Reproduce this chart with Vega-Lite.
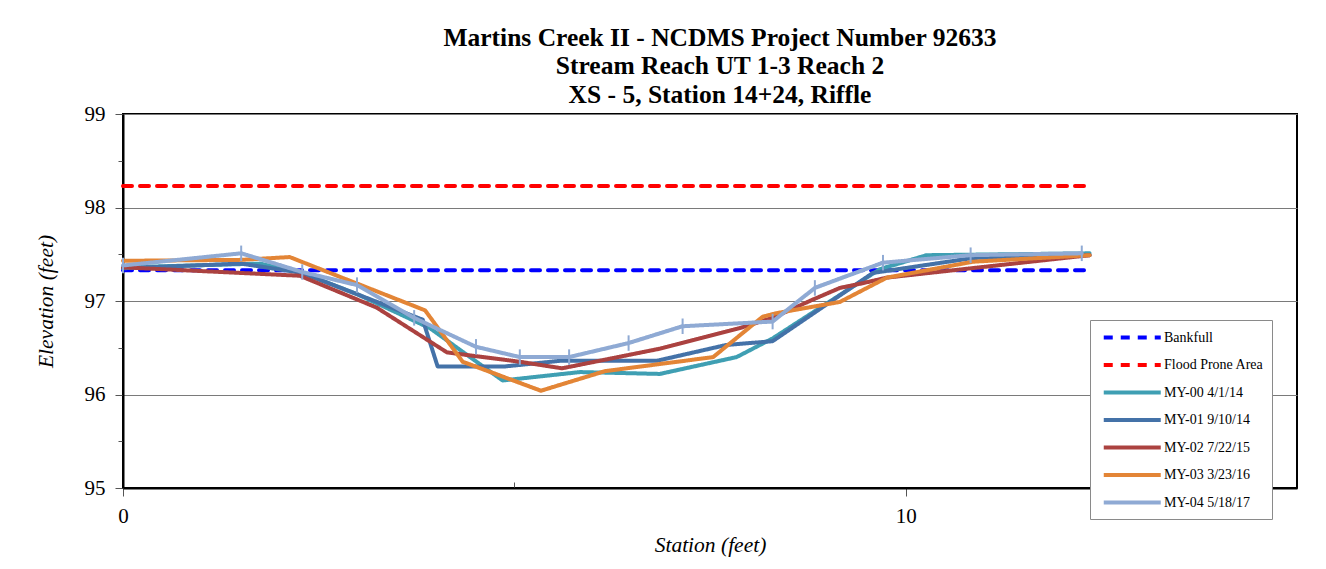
{
  "$schema": "https://vega.github.io/schema/vega-lite/v6.json",
  "autosize": {"type": "none"},
  "width": 1174,
  "height": 374,
  "padding": {"left": 123, "top": 114, "right": 29, "bottom": 81},
  "background": "white",
  "config": {
    "font": "Liberation Serif",
    "view": {"stroke": "black", "strokeWidth": 2},
    "legend": {
      "title": null,
      "orient": "none",
      "legendX": 967,
      "legendY": 206,
      "fillColor": "white",
      "strokeColor": "#8a8a8a",
      "padding": 8,
      "labelFont": "Liberation Serif",
      "labelFontSize": 14,
      "labelColor": "black",
      "labelOffset": 47,
      "labelLimit": 300,
      "symbolType": "M-0.5,0L7.1,0",
      "symbolSize": 225,
      "symbolStrokeWidth": 4,
      "rowPadding": 9.5
    }
  },
  "title": {
    "text": ["Martins Creek II - NCDMS Project Number 92633", "Stream Reach UT 1-3 Reach 2", "XS - 5, Station 14+24, Riffle"],
    "font": "Liberation Serif",
    "fontSize": 25.5,
    "fontWeight": "bold",
    "color": "black",
    "lineHeight": 28.5,
    "anchor": "middle",
    "dx": 10,
    "offset": -5
  },
  "data": {
    "values": [
      {"series": "Bankfull", "station": 0, "elevation": 97.33},
      {"series": "Bankfull", "station": 12.35, "elevation": 97.33},
      {"series": "Flood Prone Area", "station": 0, "elevation": 98.23},
      {"series": "Flood Prone Area", "station": 12.35, "elevation": 98.23},

      {"series": "MY-00 4/1/14", "station": 0, "elevation": 97.36},
      {"series": "MY-00 4/1/14", "station": 1.75, "elevation": 97.4},
      {"series": "MY-00 4/1/14", "station": 2.29, "elevation": 97.3},
      {"series": "MY-00 4/1/14", "station": 3.0, "elevation": 97.07},
      {"series": "MY-00 4/1/14", "station": 3.92, "elevation": 96.71},
      {"series": "MY-00 4/1/14", "station": 4.85, "elevation": 96.15},
      {"series": "MY-00 4/1/14", "station": 5.84, "elevation": 96.24},
      {"series": "MY-00 4/1/14", "station": 6.86, "elevation": 96.22},
      {"series": "MY-00 4/1/14", "station": 7.84, "elevation": 96.4},
      {"series": "MY-00 4/1/14", "station": 8.3, "elevation": 96.6},
      {"series": "MY-00 4/1/14", "station": 9.67, "elevation": 97.34},
      {"series": "MY-00 4/1/14", "station": 10.27, "elevation": 97.49},
      {"series": "MY-00 4/1/14", "station": 12.35, "elevation": 97.51},

      {"series": "MY-01 9/10/14", "station": 0, "elevation": 97.35},
      {"series": "MY-01 9/10/14", "station": 1.51, "elevation": 97.4},
      {"series": "MY-01 9/10/14", "station": 2.29, "elevation": 97.3},
      {"series": "MY-01 9/10/14", "station": 3.0, "elevation": 97.07},
      {"series": "MY-01 9/10/14", "station": 3.83, "elevation": 96.8},
      {"series": "MY-01 9/10/14", "station": 4.02, "elevation": 96.3},
      {"series": "MY-01 9/10/14", "station": 4.88, "elevation": 96.3},
      {"series": "MY-01 9/10/14", "station": 5.58, "elevation": 96.36},
      {"series": "MY-01 9/10/14", "station": 6.82, "elevation": 96.36},
      {"series": "MY-01 9/10/14", "station": 7.71, "elevation": 96.53},
      {"series": "MY-01 9/10/14", "station": 8.3, "elevation": 96.57},
      {"series": "MY-01 9/10/14", "station": 9.58, "elevation": 97.3},
      {"series": "MY-01 9/10/14", "station": 10.86, "elevation": 97.46},
      {"series": "MY-01 9/10/14", "station": 12.35, "elevation": 97.49},

      {"series": "MY-02 7/22/15", "station": 0, "elevation": 97.36},
      {"series": "MY-02 7/22/15", "station": 2.26, "elevation": 97.27},
      {"series": "MY-02 7/22/15", "station": 3.24, "elevation": 96.93},
      {"series": "MY-02 7/22/15", "station": 4.14, "elevation": 96.45},
      {"series": "MY-02 7/22/15", "station": 5.07, "elevation": 96.35},
      {"series": "MY-02 7/22/15", "station": 5.61, "elevation": 96.28},
      {"series": "MY-02 7/22/15", "station": 6.86, "elevation": 96.49},
      {"series": "MY-02 7/22/15", "station": 7.88, "elevation": 96.71},
      {"series": "MY-02 7/22/15", "station": 8.3, "elevation": 96.82},
      {"series": "MY-02 7/22/15", "station": 8.8, "elevation": 97.01},
      {"series": "MY-02 7/22/15", "station": 9.16, "elevation": 97.14},
      {"series": "MY-02 7/22/15", "station": 9.45, "elevation": 97.19},
      {"series": "MY-02 7/22/15", "station": 9.76, "elevation": 97.25},
      {"series": "MY-02 7/22/15", "station": 12.35, "elevation": 97.49},

      {"series": "MY-03 3/23/16", "station": 0, "elevation": 97.43},
      {"series": "MY-03 3/23/16", "station": 1.51, "elevation": 97.44},
      {"series": "MY-03 3/23/16", "station": 2.13, "elevation": 97.47},
      {"series": "MY-03 3/23/16", "station": 3.86, "elevation": 96.9},
      {"series": "MY-03 3/23/16", "station": 4.34, "elevation": 96.35},
      {"series": "MY-03 3/23/16", "station": 5.34, "elevation": 96.04},
      {"series": "MY-03 3/23/16", "station": 6.16, "elevation": 96.25},
      {"series": "MY-03 3/23/16", "station": 7.54, "elevation": 96.4},
      {"series": "MY-03 3/23/16", "station": 8.17, "elevation": 96.83},
      {"series": "MY-03 3/23/16", "station": 8.35, "elevation": 96.87},
      {"series": "MY-03 3/23/16", "station": 9.16, "elevation": 96.99},
      {"series": "MY-03 3/23/16", "station": 9.76, "elevation": 97.25},
      {"series": "MY-03 3/23/16", "station": 10.86, "elevation": 97.42},
      {"series": "MY-03 3/23/16", "station": 12.35, "elevation": 97.49},

      {"series": "MY-04 5/18/17", "station": 0, "elevation": 97.38},
      {"series": "MY-04 5/18/17", "station": 1.51, "elevation": 97.51},
      {"series": "MY-04 5/18/17", "station": 2.29, "elevation": 97.31},
      {"series": "MY-04 5/18/17", "station": 2.99, "elevation": 97.17},
      {"series": "MY-04 5/18/17", "station": 3.72, "elevation": 96.82},
      {"series": "MY-04 5/18/17", "station": 4.51, "elevation": 96.51},
      {"series": "MY-04 5/18/17", "station": 5.07, "elevation": 96.4},
      {"series": "MY-04 5/18/17", "station": 5.7, "elevation": 96.4},
      {"series": "MY-04 5/18/17", "station": 6.46, "elevation": 96.55},
      {"series": "MY-04 5/18/17", "station": 7.15, "elevation": 96.73},
      {"series": "MY-04 5/18/17", "station": 8.3, "elevation": 96.78},
      {"series": "MY-04 5/18/17", "station": 8.84, "elevation": 97.14},
      {"series": "MY-04 5/18/17", "station": 9.71, "elevation": 97.41},
      {"series": "MY-04 5/18/17", "station": 10.83, "elevation": 97.49},
      {"series": "MY-04 5/18/17", "station": 12.25, "elevation": 97.51}
    ]
  },
  "encoding": {
    "x": {
      "field": "station",
      "type": "quantitative",
      "scale": {"domain": [0, 15], "nice": false, "zero": false},
      "axis": {
        "title": "Station (feet)",
        "values": [0, 5, 10],
        "format": ".0f",
        "labelExpr": "datum.value == 5 ? '' : datum.label",
        "grid": false,
        "domainColor": "black",
        "domainWidth": 2,
        "tickColor": "#555",
        "tickSize": {"condition": {"test": "datum.value == 5", "value": -6}, "value": 8},
        "labelFont": "Liberation Serif",
        "labelFontSize": 21,
        "labelColor": "black",
        "labelPadding": 9,
        "labelFlush": false,
        "titleFont": "Liberation Serif",
        "titleFontSize": 21.5,
        "titleFontStyle": "italic",
        "titleFontWeight": "normal",
        "titleColor": "black",
        "titlePadding": 8
      }
    },
    "y": {
      "field": "elevation",
      "type": "quantitative",
      "scale": {"domain": [95, 99], "nice": false, "zero": false},
      "axis": {
        "title": "Elevation (feet)",
        "values": [95, 95.5, 96, 96.5, 97, 97.5, 98, 98.5, 99],
        "format": ".0f",
        "labelExpr": "datum.value % 1 != 0 ? '' : datum.label",
        "grid": true,
        "gridColor": "#7a7a7a",
        "gridWidth": 1,
        "gridOpacity": {"condition": {"test": "datum.value % 1 != 0", "value": 0}, "value": 1},
        "domainColor": "black",
        "domainWidth": 2,
        "tickColor": "#555",
        "tickSize": {"condition": {"test": "datum.value % 1 != 0", "value": 5}, "value": 8},
        "labelFont": "Liberation Serif",
        "labelFontSize": 21,
        "labelColor": "black",
        "labelPadding": 10,
        "labelFlush": false,
        "titleFont": "Liberation Serif",
        "titleFontSize": 21.5,
        "titleFontStyle": "italic",
        "titleFontWeight": "normal",
        "titleColor": "black",
        "titlePadding": 27
      }
    }
  },
  "layer": [
    {
      "mark": {"type": "line", "strokeWidth": 4, "strokeCap": "round", "strokeJoin": "round"},
      "encoding": {
        "color": {
          "field": "series",
          "type": "nominal",
          "scale": {
            "domain": ["Bankfull", "Flood Prone Area", "MY-00 4/1/14", "MY-01 9/10/14", "MY-02 7/22/15", "MY-03 3/23/16", "MY-04 5/18/17"],
            "range": ["#0000ff", "#ff0000", "#3f9fb3", "#4472a8", "#ab4240", "#e38536", "#8faad4"]
          },
          "sort": null
        },
        "strokeDash": {
          "field": "series",
          "type": "nominal",
          "scale": {
            "domain": ["Bankfull", "Flood Prone Area", "MY-00 4/1/14", "MY-01 9/10/14", "MY-02 7/22/15", "MY-03 3/23/16", "MY-04 5/18/17"],
            "range": [[9, 8], [9, 8], [1, 0], [1, 0], [1, 0], [1, 0], [1, 0]]
          },
          "sort": null
        },
        "order": {"field": "station", "type": "quantitative"}
      }
    },
    {
      "transform": [{"filter": "datum.series == 'MY-04 5/18/17'"}],
      "mark": {"type": "point", "shape": "M0,-1L0,1", "size": 240, "strokeWidth": 2, "filled": false, "color": "#8faad4", "opacity": 1}
    }
  ]
}
